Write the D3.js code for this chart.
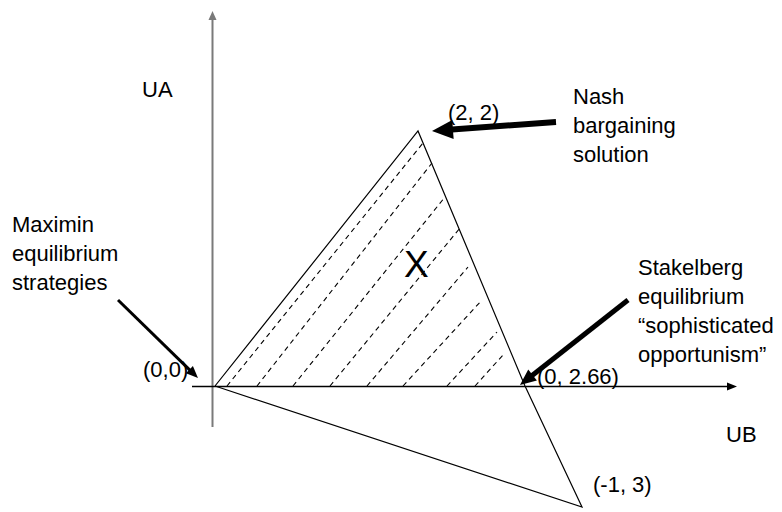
<!DOCTYPE html>
<html>
<head>
<meta charset="utf-8">
<script src="https://cdn.jsdelivr.net/npm/d3@7"></script>
<style>
    body { margin: 0; background: #fff; }
    svg text { font-family: "Liberation Sans", Arial, sans-serif; fill: #000; }
</style>
</head>
<body>
<div id="chart"></div>
<script>
// Payoff region, in diagram units (UB across, UA up)
const regionPoints = [[0.02, 0], [2.05, 2.55], [3.12, 0], [3.69, -1.21], [0.02, 0]];

// Dashed hatch lines: start on the UB axis, end near the right edge
const hatchStart = [0.14, 0.44, 0.80, 1.17, 1.54, 1.90, 2.34, 2.62];
const hatchEndX  = [2.10, 2.19, 2.32, 2.47, 2.55, 2.69, 2.84, 2.90];
const hatchEndY  = [2.43, 2.23, 1.89, 1.58, 1.19, 0.86, 0.54, 0.31];

// Annotation arrows: tail -> tip
const arrowNames = ['nash', 'stakelberg', 'maximin'];
const arrowTail  = [[3.43, 2.64], [4.15, 0.86], [-0.95, 0.86]];
const arrowTip   = [[2.19, 2.55], [3.07, 0.01], [-0.15, 0.08]];

// Labels
const pointLabels = ['(0,0)', '(2, 2)', '(0, 2.66)', '(-1, 3)'];
const axisLabels = ['UA', 'UB'];
const nashText = ['Nash', 'bargaining', 'solution'];
const stakelbergText = ['Stakelberg', 'equilibrium', '\u201csophisticated', 'opportunism\u201d'];
const maximinText = ['Maximin', 'equilibrium', 'strategies'];

document.addEventListener('DOMContentLoaded', function() {
    const width = 782;
    const height = 512;

    const svg = d3.select('#chart')
        .append('svg')
        .attr('width', width)
        .attr('height', height);

    // 1 unit = 100px, origin at (213, 386)
    const x = d3.scaleLinear().domain([-2.13, 5.69]).range([0, width]);
    const y = d3.scaleLinear().domain([-1.26, 3.86]).range([height, 0]);

    const line = d3.line().x(d => x(d[0])).y(d => y(d[1]));

    // draws a straight shaft with a filled triangular head at the tip
    function arrow(g, from, to, opts) {
        const x0 = x(from[0]), y0 = y(from[1]);
        const x1 = x(to[0]), y1 = y(to[1]);
        const len = Math.hypot(x1 - x0, y1 - y0);
        const ux = (x1 - x0) / len, uy = (y1 - y0) / len;
        const bx = x1 - ux * opts.head, by = y1 - uy * opts.head;
        g.append('line')
            .attr('x1', x0).attr('y1', y0)
            .attr('x2', bx + ux * 1).attr('y2', by + uy * 1)
            .attr('stroke', opts.color)
            .attr('stroke-width', opts.width);
        const hw = opts.headWidth / 2;
        g.append('path')
            .attr('d', `M${x1},${y1}L${bx - uy * hw},${by + ux * hw}L${bx + uy * hw},${by - ux * hw}Z`)
            .attr('fill', opts.color);
    }

    // Region outline
    svg.append('path')
        .datum(regionPoints)
        .attr('d', line)
        .attr('fill', 'none')
        .attr('stroke', '#000')
        .attr('stroke-width', 1.2);

    // Hatching
    svg.append('g')
        .selectAll('line')
        .data(hatchStart)
        .enter()
        .append('line')
        .attr('x1', d => x(d))
        .attr('y1', y(0))
        .attr('x2', (d, i) => x(hatchEndX[i]))
        .attr('y2', (d, i) => y(hatchEndY[i]))
        .attr('stroke', '#000')
        .attr('stroke-width', 1.1)
        .attr('stroke-dasharray', '5,4');

    // Axes
    const axes = svg.append('g');
    arrow(axes, [-0.005, -0.41], [-0.005, 3.75], { color: '#7a7a7a', width: 2, head: 9, headWidth: 8 });
    arrow(axes, [-0.21, -0.005], [5.24, -0.005], { color: '#000', width: 1.5, head: 10, headWidth: 8 });

    // Annotation arrows
    const arrowStyle = {
        nash: { color: '#000', width: 6, head: 21, headWidth: 19 },
        stakelberg: { color: '#000', width: 5, head: 16, headWidth: 14 },
        maximin: { color: '#000', width: 3, head: 12, headWidth: 10 }
    };
    const arrows = svg.append('g');
    arrowNames.forEach((name, i) => arrow(arrows, arrowTail[i], arrowTip[i], arrowStyle[name]));

    // Text
    const fontSize = 22;
    const lineGap = 29;

    function block(lines, px, py) {
        const t = svg.append('text')
            .attr('x', px)
            .attr('y', py)
            .style('font-size', fontSize + 'px');
        lines.forEach((s, i) => {
            t.append('tspan')
                .attr('x', px)
                .attr('dy', i === 0 ? 0 : lineGap)
                .text(s);
        });
    }

    block([axisLabels[0]], 142, 97);
    block([axisLabels[1]], 726, 442);
    block(maximinText, 12, 232);
    block(nashText, 573, 104);
    block(stakelbergText, 638, 275);

    const pointPos = [[143, 377], [448, 120], [537, 384], [593, 492]];
    pointLabels.forEach((s, i) => block([s], pointPos[i][0], pointPos[i][1]));

    svg.append('text')
        .attr('x', 404)
        .attr('y', 277)
        .style('font-size', '37px')
        .text('X');
});
</script>
</body>
</html>
